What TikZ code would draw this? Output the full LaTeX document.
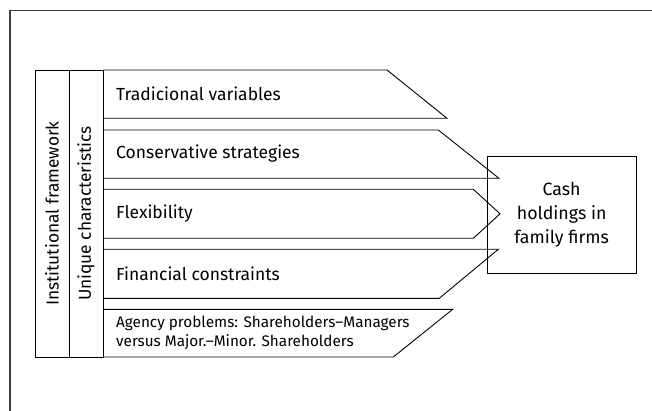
\documentclass[tikz,border=0pt]{standalone}
\usepackage{fontspec}
\setmainfont{Fira Sans}
\begin{document}
\begin{tikzpicture}[x=1pt,y=-1pt,
  frameline/.style={draw=black!75, line width=1.3pt},
  shapeline/.style={draw=black, line width=0.9pt, line join=miter},
  lbl/.style={anchor=west, inner sep=0pt, font=\fontsize{17.5}{21}\selectfont},
  small/.style={anchor=west, inner sep=0pt, align=left, font=\fontsize{15.3}{19.5}\selectfont},
  vlbl/.style={rotate=90, inner sep=0pt, font=\fontsize{17.3}{21}\selectfont}]
\useasboundingbox (0,0) rectangle (652,411);
\draw[frameline] (10,411) -- (10,10.5) -- (652,10.5);
% columns
\draw[shapeline] (35,70) rectangle (69,357);
\draw[shapeline] (69,70) rectangle (103,357);
\node[vlbl] (inst) at (52,213.5) {Institutional framework};
\node[vlbl] (uniq) at (86,213.5) {Unique characteristics};
% bands
\draw[shapeline] (103,70) -- (387,70) -- (447,118.3) -- (103,118.3);
\draw[shapeline] (103,130) -- (438.3,130) -- (499,178.3) -- (103,178.3);
\draw[shapeline] (103,189.3) -- (473.3,189.3) -- (500,213.8) -- (473.3,238.3) -- (103,238.3);
\draw[shapeline] (103,249.3) -- (498.3,249.3) -- (439.3,298.3) -- (103,298.3);
\draw[shapeline] (103,309.3) -- (452.7,309.3) -- (393.3,357) -- (103,357);
\node[lbl] (trad) at (116,94) {Tradicional variables};
\node[lbl] (cons) at (116,154) {Conservative strategies};
\node[lbl] (flex) at (116,213.8) {Flexibility};
\node[lbl] (fin) at (116,273.8) {Financial constraints};
\node[small] (agen) at (116,333) {Agency problems: Shareholders--Managers\\versus Major.--Minor. Shareholders};
% target box
\node[shapeline, minimum width=148.7pt, minimum height=117.3pt, align=center,
  font=\fontsize{17.8}{24}\selectfont, inner sep=0pt] (cash) at (561.65,214.65)
  {Cash\\holdings in\\family firms};
\end{tikzpicture}
\end{document}
